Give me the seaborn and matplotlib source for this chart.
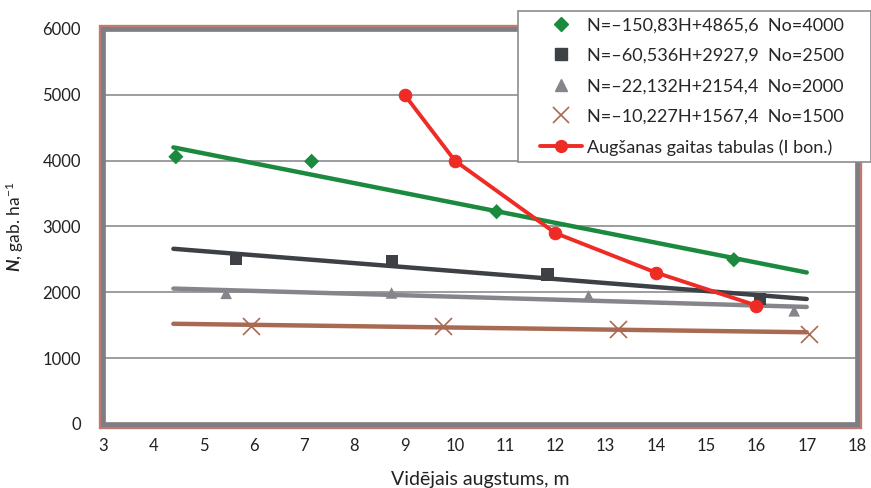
import matplotlib
matplotlib.use("Agg")
import matplotlib.pyplot as plt
from matplotlib.lines import Line2D
from matplotlib.legend_handler import HandlerLine2D
from matplotlib.patches import Rectangle
import numpy as np
import pandas as pd
import seaborn as sns

# Measured stand density points, N (trees per ha) against mean height H (m)
h_4000 = [4.45, 7.15, 10.83, 15.55]
n_4000 = [4060, 3990, 3225, 2495]
h_2500 = [5.65, 8.75, 11.84, 16.07]
n_2500 = [2515, 2480, 2268, 1903]
h_2000 = [5.45, 8.74, 12.66, 16.75]
n_2000 = [1985, 1990, 1945, 1720]
h_1500 = [5.95, 9.77, 13.24, 17.04]
n_1500 = [1492, 1490, 1446, 1372]

# Yield table (site class I)
h_table = [9, 10, 12, 14, 16]
n_table = [5000, 4000, 2900, 2300, 1800]

# Linear fits N = a*H + b for each initial density No
fit_slopes = [-150.83, -60.536, -22.132, -10.227]
fit_intercepts = [4865.6, 2927.9, 2154.4, 1567.4]
fit_h_range = [4.4, 17.0]
fit_labels = [
    "N=\u2013150,83H+4865,6  No=4000",
    "N=\u201360,536H+2927,9  No=2500",
    "N=\u201322,132H+2154,4  No=2000",
    "N=\u201310,227H+1567,4  No=1500",
]
table_label = "Aug\u0161anas gaitas tabulas (I bon.)"

x_ticks = list(range(3, 19))
y_ticks = list(range(0, 7000, 1000))

colors = ["#1b8a3e", "#3d4045", "#85858b", "#a86a52"]
red = "#ee2b25"
markers = ["D", "s", "^", "x"]
marker_sizes = [60, 80, 70, 150]

sns.set_style("white")
plt.rcParams["font.family"] = ["Lato", "DejaVu Sans"]
plt.rcParams["mathtext.fontset"] = "custom"
plt.rcParams["mathtext.it"] = "Lato:bold:italic"
plt.rcParams["mathtext.rm"] = "Lato"

fig = plt.figure(figsize=(8.71, 4.88), dpi=100)
ax = fig.add_axes([103 / 871, 1 - 424 / 488, 754 / 871, 395 / 488])

groups = [(h_4000, n_4000), (h_2500, n_2500), (h_2000, n_2000), (h_1500, n_1500)]

for i, (hs, ns) in enumerate(groups):
    a, b = fit_slopes[i], fit_intercepts[i]
    fit_df = pd.DataFrame({"H": fit_h_range, "N": [a * h + b for h in fit_h_range]})
    sns.lineplot(data=fit_df, x="H", y="N", ax=ax, color=colors[i], lw=3.2,
                 solid_capstyle="round", zorder=3, legend=False)
    pts = pd.DataFrame({"H": hs, "N": ns})
    kw = dict(edgecolor="none") if markers[i] != "x" else dict(linewidth=1.2)
    sns.scatterplot(data=pts, x="H", y="N", ax=ax, color=colors[i], marker=markers[i],
                    s=marker_sizes[i], zorder=4, legend=False, **kw)

tab_df = pd.DataFrame({"H": h_table, "N": n_table})
sns.lineplot(data=tab_df, x="H", y="N", ax=ax, color=red, lw=2.8, marker="o",
             markersize=9, markeredgecolor=red, zorder=5, legend=False)

ax.set_xlim(3, 18)
ax.set_ylim(0, 6000)
ax.set_xticks(x_ticks)
ax.set_yticks(y_ticks)
ax.yaxis.grid(True, color="#8c8c90", lw=1.2)
ax.set_axisbelow(True)
ax.tick_params(axis="x", length=4, width=1, color="#8c8c90", direction="inout",
               labelsize=12, pad=8, labelcolor="#222222")
ax.tick_params(axis="y", length=0, labelsize=12, pad=16, labelcolor="#222222")

for sp in ax.spines.values():
    sp.set_color("#7e7e84")
    sp.set_linewidth(3.4)
    sp.set_zorder(6)

# Reddish outer shadow around the plot frame
dx = 3.3 / 754
dy = 3.3 / 395
ax.add_patch(Rectangle((-dx, -dy), 1 + 2 * dx, 1 + 2 * dy, transform=ax.transAxes,
                       fill=False, edgecolor="#c07a70", lw=2.4, clip_on=False, zorder=5))

ax.set_xlabel("Vid\u0113jais augstums, m", fontsize=14, labelpad=12, color="#222222")
ax.set_ylabel(r"$N$, gab. ha$^{\mathregular{-1}}$", fontsize=12.5, labelpad=12,
              color="#222222")

handles = []
for i in range(4):
    mk = markers[i]
    if mk == "x":
        h = Line2D([], [], ls="none", marker="x", color=colors[i], markersize=12,
                   markeredgewidth=1.2)
    else:
        h = Line2D([], [], ls="none", marker=mk, color=colors[i],
                   markersize=8.5 if mk != "D" else 7, markeredgecolor=colors[i])
    handles.append(h)
handles.append(Line2D([], [], color=red, lw=2.8, marker="o", markersize=8.5))

leg_h = 0.01
leg = fig.legend(handles, fit_labels + [table_label], loc="upper left",
                 bbox_to_anchor=(518 / 871, 1 - 11 / 488 - leg_h, 353 / 871, leg_h),
                 mode="expand", frameon=True, fancybox=False,
                 fontsize=13, handlelength=3.2, handletextpad=0.25,
                 labelspacing=0.8, borderpad=0.35, borderaxespad=0,
                 handler_map={Line2D: HandlerLine2D(xpad=0.85)})
leg.get_frame().set_edgecolor("#8c8c90")
leg.get_frame().set_linewidth(1.2)
leg.get_frame().set_alpha(1)
leg.set_zorder(10)

fig.savefig("out.png", dpi=100)
